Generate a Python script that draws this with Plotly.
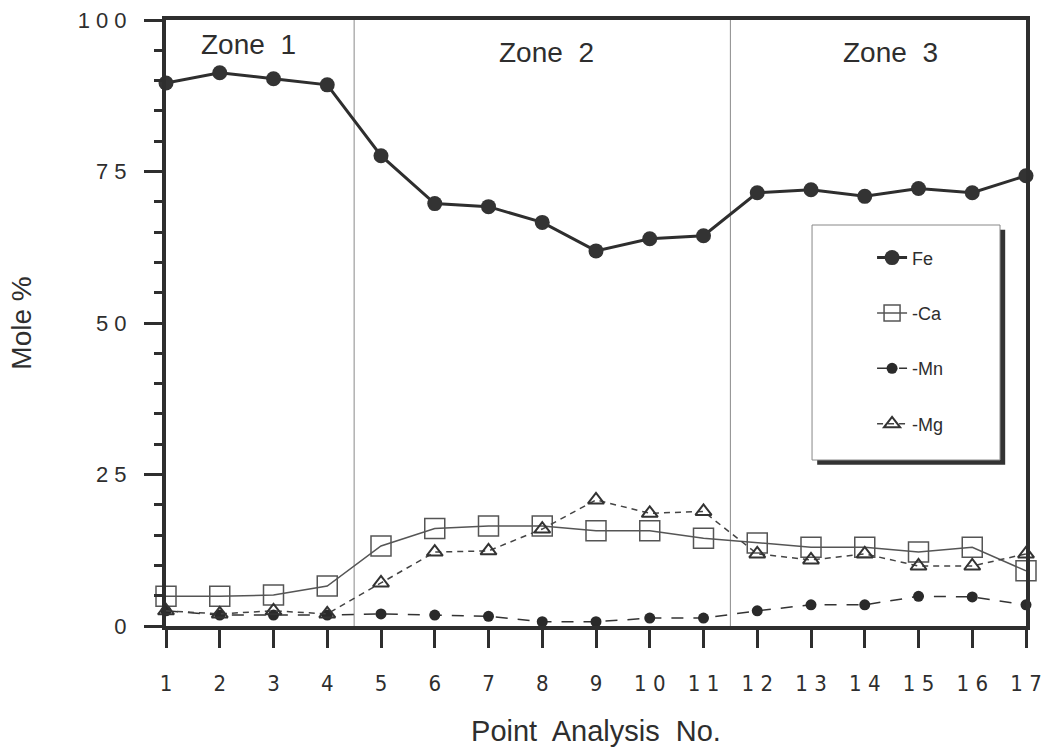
import plotly.graph_objects as go

points = list(range(1, 18))
fe = [89.6, 91.3, 90.3, 89.3, 77.6, 69.7, 69.2, 66.6, 61.9, 63.9, 64.4, 71.5, 72.0, 70.9, 72.2, 71.5, 74.3]
ca = [4.9, 4.9, 5.1, 6.6, 13.2, 16.1, 16.5, 16.5, 15.7, 15.7, 14.5, 13.7, 13.0, 13.0, 12.2, 13.0, 9.1]
mn = [2.5, 1.8, 1.8, 1.8, 2.0, 1.8, 1.6, 0.7, 0.7, 1.3, 1.3, 2.5, 3.5, 3.5, 4.9, 4.8, 3.5]
mg = [2.5, 2.0, 2.5, 2.0, 7.1, 12.2, 12.4, 16.0, 20.8, 18.6, 18.9, 11.9, 10.9, 11.9, 9.9, 9.9, 11.9]

x_ticktext = ["1", "2", "3", "4", "5", "6", "7", "8", "9", "1 0", "1 1", "1 2", "1 3", "1 4", "1 5", "1 6", "1 7"]
y_tickvals = [0, 25, 50, 75, 100]
y_ticktext = ["0", "2 5", "5 0", "7 5", "1 0 0"]

zone_bounds = [4.5, 11.5]
zone_labels = ["Zone  1", "Zone  2", "Zone  3"]
zone_centers = [2.53, 8.08, 14.47]
zone_label_y = [96.0, 94.7, 94.7]

INK = "#2e2e2e"
FONT = "Liberation Sans, Arial, sans-serif"
NARROW = "Liberation Sans Narrow, DejaVu Sans Condensed, Liberation Sans, Arial"

fig = go.Figure()
fig.add_trace(go.Scatter(x=points, y=fe, name="Fe", mode="lines+markers", legendgroup="a",
                         line=dict(color=INK, width=3),
                         marker=dict(symbol="circle", size=15, color="#333333"), cliponaxis=False))
fig.add_trace(go.Scatter(x=points, y=ca, name="-Ca", mode="lines+markers", legendgroup="b",
                         line=dict(color="#555555", width=1.5),
                         marker=dict(symbol="square-open", size=20, color="#555555", line=dict(width=1.5)),
                         cliponaxis=False))
fig.add_trace(go.Scatter(x=points, y=mn, name="-Mn", mode="lines+markers", legendgroup="c",
                         line=dict(color="#333333", width=1.5, dash="12px,10px"),
                         marker=dict(symbol="circle", size=11, color="#2a2a2a"), cliponaxis=False))
fig.add_trace(go.Scatter(x=points, y=mg, name="-Mg", mode="lines+markers", legendgroup="d",
                         line=dict(color="#444444", width=1.5, dash="6px,5px"),
                         marker=dict(symbol="triangle-up-open", size=14, color="#333333", line=dict(width=2)),
                         cliponaxis=False))

shapes = []
for xb in zone_bounds:
    shapes.append(dict(type="line", xref="x", yref="y", x0=xb, x1=xb, y0=0, y1=100,
                       line=dict(color="#8a8a8a", width=1), layer="below"))
# legend box with drop shadow
lx0, lx1, ly0, ly1 = 0.7512, 0.9698, 0.2739, 0.6617
shapes.append(dict(type="rect", xref="paper", yref="paper", x0=lx0 + 0.006, x1=lx1 + 0.006,
                   y0=ly0 - 0.008, y1=ly1 - 0.008, fillcolor="#333333", line=dict(width=0), layer="above"))
shapes.append(dict(type="rect", xref="paper", yref="paper", x0=lx0, x1=lx1, y0=ly0, y1=ly1,
                   fillcolor="white", line=dict(color="#888888", width=1), layer="above"))

annotations = []
for lab, cx, cy in zip(zone_labels, zone_centers, zone_label_y):
    annotations.append(dict(x=cx, y=cy, xref="x", yref="y", text=lab, showarrow=False,
                            font=dict(family=FONT, size=28, color=INK)))

fig.update_layout(
    template="none",
    width=1044, height=751,
    margin=dict(l=166, r=18, t=20, b=125, autoexpand=False),
    paper_bgcolor="white", plot_bgcolor="white",
    font=dict(family=FONT, color=INK),
    showlegend=True,
    legend=dict(x=0.821, y=0.638, xanchor="left", yanchor="top", bgcolor="rgba(0,0,0,0)",
                borderwidth=0, tracegroupgap=29, traceorder="grouped",
                font=dict(family=FONT, size=18, color=INK)),
    shapes=shapes, annotations=annotations,
    xaxis=dict(range=[1, 17], tickvals=points, ticktext=x_ticktext, showgrid=False, zeroline=False,
               automargin=False,
               showline=True, linecolor=INK, linewidth=4, mirror=True,
               ticks="outside", ticklen=18, tickwidth=3, tickcolor=INK, ticklabelstandoff=17,
               tickfont=dict(family=NARROW, size=22, color=INK),
               title=dict(text="Point  Analysis  No.", standoff=26,
                          font=dict(family=FONT, size=29, color=INK))),
    yaxis=dict(range=[0, 100], tickvals=y_tickvals, ticktext=y_ticktext, showgrid=False, zeroline=False,
               automargin=False,
               showline=True, linecolor=INK, linewidth=4, mirror=True,
               ticks="outside", ticklen=18, tickwidth=3, tickcolor=INK, ticklabelstandoff=13,
               minor=dict(dtick=5, ticks="outside", ticklen=8, tickwidth=3, tickcolor=INK),
               tickfont=dict(family=FONT, size=22, color=INK),
               title=dict(text="Mole %", standoff=39, font=dict(family=FONT, size=28, color=INK))),
)

fig.write_html("out.html", config={"displayModeBar": False},
               post_script="document.body.style.margin='0';")
